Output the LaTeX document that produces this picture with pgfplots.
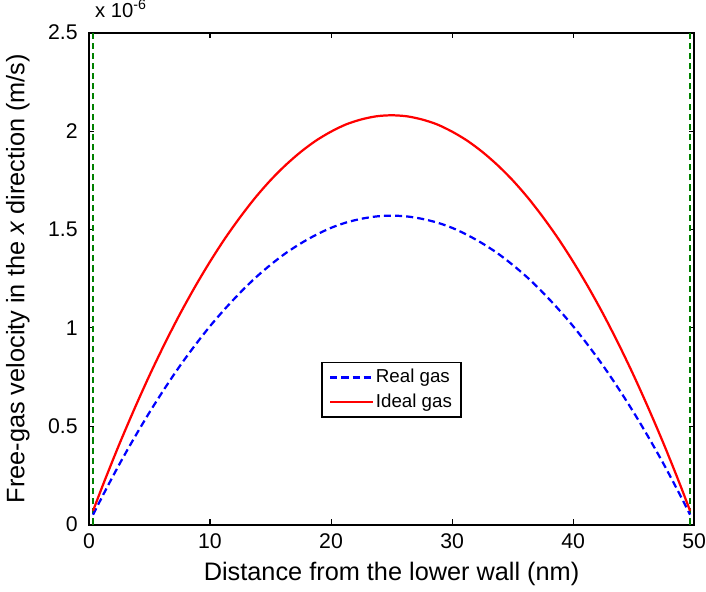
\documentclass[border=0pt]{standalone}
\usepackage{pgfplots}
\pgfplotsset{compat=1.18}
\usepackage{fontspec}
\setmainfont{Liberation Sans}
\definecolor{mgreen}{rgb}{0,0.5,0}
\begin{document}
\fontsize{18}{21}\selectfont
\begin{tikzpicture}
\begin{axis}[
  width=598pt, height=486pt, scale only axis,
  xmin=0, xmax=50, ymin=0, ymax=2.5,
  xtick={0,10,20,30,40,50},
  ytick={0,0.5,1,1.5,2,2.5},
  yticklabels={0,0.5,1,1.5,2,2.5},
  /pgf/number format/assume math mode=true,
  tick label style={font=\fontsize{21}{24}\selectfont},
  yticklabel style={xshift=-5pt},
  xticklabel style={yshift=-3pt, inner xsep=0pt},
  label style={font=\fontsize{25}{28}\selectfont},
  ylabel shift=6pt,
  xlabel shift=1pt,
  tick align=inside, major tick length=5pt,
  tick style={black, line width=1pt},
  axis line style={line width=2pt},
  xlabel={Distance from the lower wall (nm)},
  ylabel={Free-gas velocity in the \textit{x} direction (m/s)},
  legend style={at={(rel axis cs:0.5,0.274)}, anchor=center,
    draw=black, line width=1.5pt, font=\fontsize{18.5}{21}\selectfont,
    row sep=4pt, inner xsep=7pt, inner ysep=5pt},
  legend cell align=left,
  legend image code/.code={\draw[#1] (0pt,0pt) -- (42pt,0pt);},
  clip=false,
]
\addplot[mgreen, dash pattern=on 6pt off 4pt, line width=2pt, forget plot] coordinates {(0.34,0)(0.34,2.5)};
\addplot[mgreen, dash pattern=on 6pt off 4pt, line width=2pt, forget plot] coordinates {(49.66,0)(49.66,2.5)};
\addplot[blue, dash pattern=on 7pt off 4pt, line width=2.2pt, smooth] coordinates {
(0.34,0.050)(1.25,0.160)(2.5,0.305)(3.75,0.441)(5,0.570)(6.25,0.691)(7.5,0.805)(8.75,0.910)
(10,1.008)(11.25,1.097)(12.5,1.179)(13.75,1.254)(15,1.320)(16.25,1.379)(17.5,1.429)(18.75,1.472)
(20,1.508)(21.25,1.535)(22.5,1.554)(23.75,1.566)(25,1.570)
(26.25,1.566)(27.5,1.554)(28.75,1.535)(30,1.508)(31.25,1.472)(32.5,1.429)(33.75,1.379)
(35,1.320)(36.25,1.254)(37.5,1.179)(38.75,1.097)(40,1.008)(41.25,0.910)(42.5,0.805)(43.75,0.691)
(45,0.570)(46.25,0.441)(47.5,0.305)(48.75,0.160)(49.66,0.050)
};
\addlegendentry{Real gas}
\addplot[red, line width=2.2pt, smooth] coordinates {
(0.34,0.070)(1.25,0.216)(2.5,0.407)(3.75,0.587)(5,0.758)(6.25,0.918)(7.5,1.068)(8.75,1.207)
(10,1.336)(11.25,1.455)(12.5,1.563)(13.75,1.662)(15,1.750)(16.25,1.827)(17.5,1.894)(18.75,1.951)
(20,1.997)(21.25,2.034)(22.5,2.059)(23.75,2.075)(25,2.080)
(26.25,2.075)(27.5,2.059)(28.75,2.034)(30,1.997)(31.25,1.951)(32.5,1.894)(33.75,1.827)
(35,1.750)(36.25,1.662)(37.5,1.563)(38.75,1.455)(40,1.336)(41.25,1.207)(42.5,1.068)(43.75,0.918)
(45,0.758)(46.25,0.587)(47.5,0.407)(48.75,0.216)(49.66,0.070)
};
\addlegendentry{Ideal gas}
\node[anchor=south west, inner sep=0pt] at (rel axis cs:0.01,1.03) {\fontsize{20}{23}\selectfont x 10\textsuperscript{-6}};
\end{axis}
\end{tikzpicture}
\end{document}
